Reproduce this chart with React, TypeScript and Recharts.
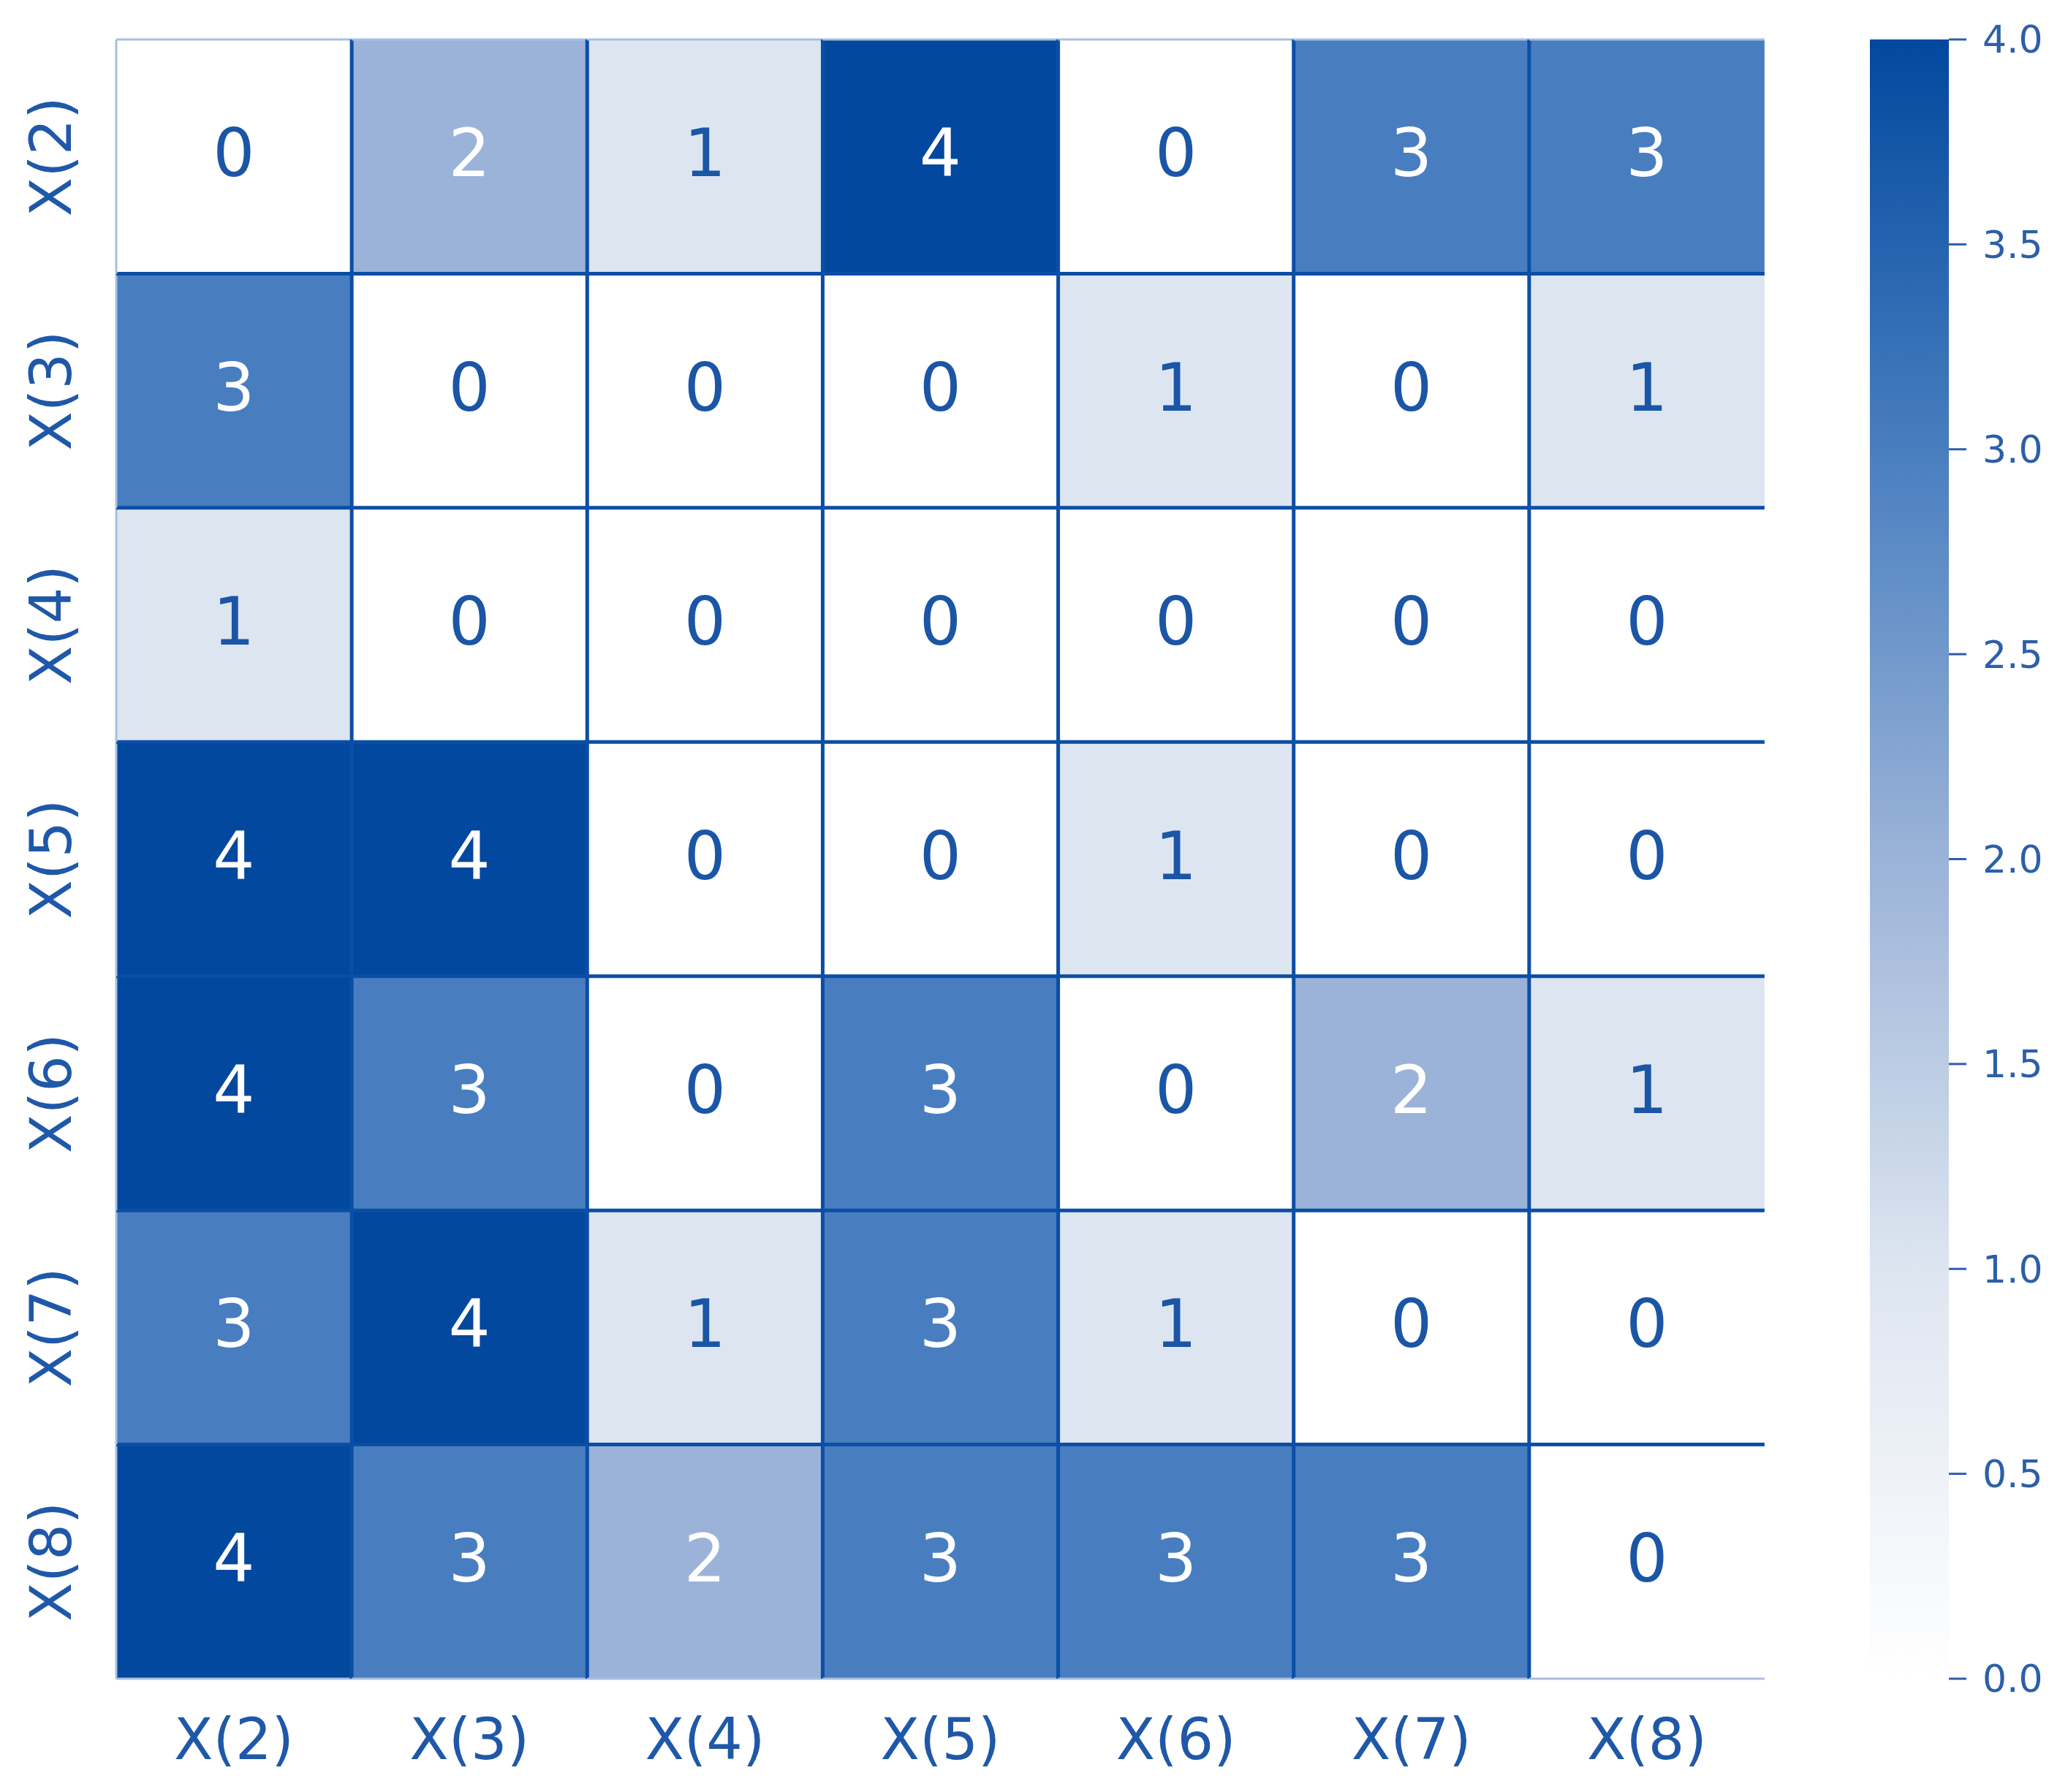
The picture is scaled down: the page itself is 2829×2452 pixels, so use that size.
import React from 'react';
import { BarChart, Bar, XAxis, YAxis } from 'recharts';

// ---- data ----
const columns = ['X(2)', 'X(3)', 'X(4)', 'X(5)', 'X(6)', 'X(7)', 'X(8)'];
const rowLabels = ['X(2)', 'X(3)', 'X(4)', 'X(5)', 'X(6)', 'X(7)', 'X(8)'];
const rowX2 = [0, 2, 1, 4, 0, 3, 3];
const rowX3 = [3, 0, 0, 0, 1, 0, 1];
const rowX4 = [1, 0, 0, 0, 0, 0, 0];
const rowX5 = [4, 4, 0, 0, 1, 0, 0];
const rowX6 = [4, 3, 0, 3, 0, 2, 1];
const rowX7 = [3, 4, 1, 3, 1, 0, 0];
const rowX8 = [4, 3, 2, 3, 3, 3, 0];
const matrix = [rowX2, rowX3, rowX4, rowX5, rowX6, rowX7, rowX8];
const colorbarTicks = [0, 0.5, 1, 1.5, 2, 2.5, 3, 3.5, 4];
const colorStops = ['#ffffff', '#dde5f0', '#9bb3d8', '#487ebf', '#02489e'];
const colorbarData = [{ k: 'scale', v: 4 }];

// ---- styles ----
const FONT = 'DejaVu Sans';
const GRID = '#0b4ea6';
const OUTER = '#a8bfdf';
const LABEL = '#1f58a8';
const TEXT_DARK = '#1b55a6';

const hexToRgb = (h: string) => [1, 3, 5].map((i) => parseInt(h.slice(i, i + 2), 16));
const colorFor = (v: number) => {
  const i = Math.max(0, Math.min(3, Math.floor(v)));
  const t = v - i;
  const a = hexToRgb(colorStops[i]);
  const b = hexToRgb(colorStops[Math.min(4, i + 1)]);
  const c = a.map((x, k) => Math.round(x + (b[k] - x) * t));
  return `rgb(${c[0]},${c[1]},${c[2]})`;
};

const heatData = columns.map((col, ci) => {
  const o: any = { col };
  matrix.forEach((row, ri) => {
    o[`v${ri}`] = row[ci];
    o[`u${ri}`] = 1;
  });
  return o;
});

const makeShape = (ri: number) => (props: any) => {
  const { x, y, width, height, payload } = props;
  const ci = columns.indexOf(payload.col);
  const v = payload[`v${ri}`];
  const isTop = ri === 0;
  const isBottom = ri === matrix.length - 1;
  const isLeft = ci === 0;
  const fs = 90;
  return (
    <g>
      <rect x={x} y={y} width={width} height={height} fill={colorFor(v)} />
      {!isBottom && (
        <line x1={x} x2={x + width} y1={y + height} y2={y + height} stroke={GRID} strokeWidth={5} />
      )}
      {!isLeft && <line x1={x} x2={x} y1={y} y2={y + height} stroke={GRID} strokeWidth={5} />}
      {isTop && <line x1={x} x2={x + width} y1={y} y2={y} stroke={OUTER} strokeWidth={3} />}
      {isLeft && <line x1={x} x2={x} y1={y} y2={y + height} stroke={OUTER} strokeWidth={3} />}
      {isBottom && (
        <line x1={x} x2={x + width} y1={y + height} y2={y + height} stroke={OUTER} strokeWidth={3} />
      )}
      <text
        x={x + width / 2}
        y={y + height / 2 + fs * 0.3}
        textAnchor="middle"
        fontSize={fs}
        fontFamily={FONT}
        fill={v >= 2 ? '#ffffff' : TEXT_DARK}
      >
        {v}
      </text>
    </g>
  );
};

const XTick = (props: any) => {
  const { x, y, payload } = props;
  return (
    <text x={x} y={y + 110} textAnchor="middle" fontSize={78} fontFamily={FONT} fill={LABEL}>
      {payload.value}
    </text>
  );
};

const YTick = (props: any) => {
  const { x, y, payload } = props;
  const idx = matrix.length - 1 - Math.floor(payload.value);
  const cx = x - 90;
  return (
    <text
      x={cx}
      y={y}
      dy={78 * 0.36}
      textAnchor="middle"
      fontSize={78}
      fontFamily={FONT}
      fill={LABEL}
      transform={`rotate(-90, ${cx}, ${y})`}
    >
      {rowLabels[idx]}
    </text>
  );
};

const rowTicks = matrix.map((_, i) => i + 0.5);

export default function App() {
  const seriesOrder = matrix.map((_, i) => matrix.length - 1 - i); // bottom row first
  return (
    <div
      style={{
        position: 'absolute',
        left: 0,
        top: 0,
        width: 2829,
        height: 2452,
        background: '#ffffff',
        overflow: 'hidden',
      }}
    >
      <svg width={0} height={0} style={{ position: 'absolute' }}>
        <defs>
          <linearGradient id="cbGrad" x1="0" y1="0" x2="0" y2="1">
            <stop offset="0%" stopColor={colorStops[4]} />
            <stop offset="25%" stopColor={colorStops[3]} />
            <stop offset="50%" stopColor={colorStops[2]} />
            <stop offset="75%" stopColor={colorStops[1]} />
            <stop offset="100%" stopColor={colorStops[0]} />
          </linearGradient>
        </defs>
      </svg>
      <div style={{ position: 'absolute', left: 0, top: 0 }}>
        <BarChart
          width={2450}
          height={2452}
          data={heatData}
          margin={{ top: 54, right: 36, bottom: 0, left: 0 }}
          barCategoryGap={0}
          barGap={0}
        >
          <XAxis
            dataKey="col"
            type="category"
            height={155}
            axisLine={false}
            tickLine={false}
            tickSize={0}
            tickMargin={0}
            tick={<XTick />}
            interval={0}
          />
          <YAxis
            type="number"
            domain={[0, 7]}
            ticks={rowTicks}
            width={159}
            axisLine={false}
            tickLine={false}
            tickSize={0}
            tickMargin={0}
            tick={<YTick />}
            interval={0}
          />
          {seriesOrder.map((ri) => (
            <Bar
              key={ri}
              dataKey={`u${ri}`}
              stackId="heat"
              isAnimationActive={false}
              shape={makeShape(ri)}
            />
          ))}
        </BarChart>
      </div>
      <div style={{ position: 'absolute', left: 2558, top: 0 }}>
        <BarChart
          width={271}
          height={2452}
          data={colorbarData}
          margin={{ top: 54, right: 0, bottom: 155, left: 0 }}
          barCategoryGap={0}
        >
          <XAxis dataKey="k" hide />
          <YAxis
            orientation="right"
            type="number"
            domain={[0, 4]}
            ticks={colorbarTicks}
            width={163}
            axisLine={false}
            tickLine={{ stroke: '#2c5fa8', strokeWidth: 3 }}
            tickSize={24}
            tickMargin={22}
            tickFormatter={(v: number) => v.toFixed(1)}
            tick={{ fontSize: 52, fill: '#2c5fa8', fontFamily: FONT }}
            interval={0}
          />
          <Bar dataKey="v" fill="url(#cbGrad)" isAnimationActive={false} />
        </BarChart>
      </div>
    </div>
  );
}
